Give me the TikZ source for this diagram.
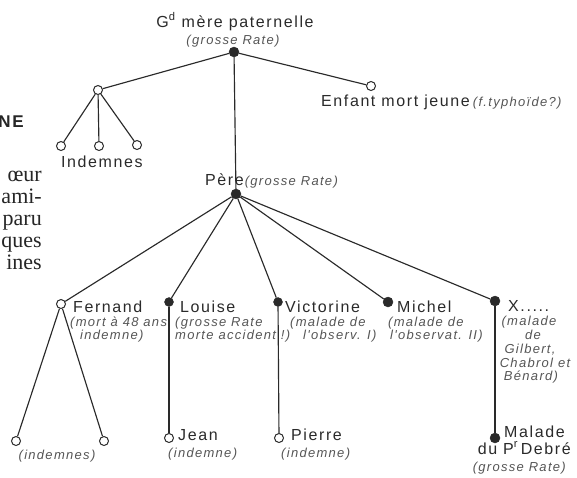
\documentclass[tikz,border=0pt]{standalone}
\usepackage{fontspec}
\newfontfamily\labfont[LetterSpace=10]{Liberation Sans}
\newfontfamily\notefont[LetterSpace=10]{Liberation Sans}
\newfontfamily\bookfont{Liberation Serif}
\definecolor{ink}{HTML}{2A2A2A}
\definecolor{noteink}{HTML}{555555}
\newcommand\notetext[1]{{\color{noteink}\notefont\itshape\fontsize{13}{14}\selectfont #1}}
\tikzset{
  link/.style={draw=ink, line width=1.15pt},
  opendot/.style={circle, draw=ink, line width=1pt, fill=white, inner sep=0pt, minimum size=9pt},
  fulldot/.style={circle, draw=ink, fill=ink, inner sep=0pt, minimum size=10pt},
  famname/.style={text=ink, inner sep=0pt, font=\labfont\fontsize{16}{16}\selectfont},
  famnote/.style={text=noteink, inner sep=0pt, font=\notefont\itshape\fontsize{13}{14}\selectfont},
  booktext/.style={text=black!85, inner sep=0pt, font=\bookfont\fontsize{22}{22}\selectfont, anchor=base east},
}
\begin{document}
\begin{tikzpicture}[x=1pt,y=-1pt]
\useasboundingbox (0,0) rectangle (577,477);

% running text of the page, cut by the left margin
\node[text=black!85, inner sep=0pt, anchor=base east, font=\labfont\bfseries\fontsize{17}{17}\selectfont] (head) at (24,127) {NE};
\node[booktext] (l1) at (42,181) {œur};
\node[booktext] (l2) at (42,203) {ami-};
\node[booktext] (l3) at (42,225) {paru};
\node[booktext] (l4) at (42,247) {ques};
\node[booktext] (l5) at (42,269) {ines};

% family members
\node[fulldot] (gm) at (234,52) {};
\node[opendot] (sib) at (98,90) {};
\node[opendot] (s1) at (61,146) {};
\node[opendot] (s2) at (99,146) {};
\node[opendot] (s3) at (137,145) {};
\node[opendot] (enf) at (371,86) {};
\node[fulldot] (pere) at (236,194) {};
\node[opendot] (fer) at (61,304) {};
\node[fulldot, minimum size=9pt] (lou) at (169,302) {};
\node[fulldot, minimum size=9pt] (vic) at (278,302) {};
\node[fulldot] (mic) at (388,302) {};
\node[fulldot] (xx) at (495,301) {};
\node[opendot] (f1) at (16,441) {};
\node[opendot] (f2) at (104,441) {};
\node[opendot] (jean) at (169,438) {};
\node[opendot] (pie) at (279,438) {};
\node[fulldot] (mal) at (495,438) {};

% lines of descent
\draw[link] (gm) -- (sib);
\draw[link] (gm) -- (pere);
\draw[link] (gm) -- (enf);
\draw[link] (sib) -- (s1);
\draw[link] (sib) -- (s2);
\draw[link] (sib) -- (s3);
\draw[link] (pere) -- (fer);
\draw[link] (pere) -- (lou);
\draw[link] (pere) -- (vic);
\draw[link] (pere) -- (mic);
\draw[link] (pere) -- (xx);
\draw[link] (fer) -- (f1);
\draw[link] (fer) -- (f2);
\draw[link] (lou) -- (jean);
\draw[link] (vic) -- (pie);
\draw[link] (xx) -- (mal);

% labels
\node[famname, anchor=base] (gmname) at (235,27) {G\textsuperscript{d} mère paternelle};
\node[famnote, anchor=base] (gmnote) at (233,44) {(grosse Rate)};
\node[famname, anchor=base west] (sibname) at (61,167) {Indemnes};
\node[famname, anchor=base west] (enfname) at (321,106) {Enfant mort jeune\hspace{3pt}\notetext{(f.typhoïde?)}};
\node[famname, anchor=base west] (perename) at (205,185) {Père\hspace{1pt}\notetext{(grosse Rate)}};

\node[famname, anchor=base west] (fername) at (73,312) {Fernand};
\node[famnote, anchor=base west] (fernote1) at (70,326) {(mort à 48 ans};
\node[famnote, anchor=base west] (fernote2) at (80,339) {indemne)};

\node[famname, anchor=base west] (louname) at (180,312) {Louise};
\node[famnote, anchor=base west] (lounote1) at (175,326) {(grosse Rate};
\node[famnote, anchor=base west] (lounote2) at (175,339) {morte accident !)};

\node[famname, anchor=base west] (vicname) at (285,312) {Victorine};
\node[famnote, anchor=base west] (vicnote1) at (290,326) {(malade de};
\node[famnote, anchor=base west] (vicnote2) at (303,339) {l'observ. I)};

\node[famname, anchor=base west] (micname) at (397,312) {Michel};
\node[famnote, anchor=base west] (micnote1) at (388,326) {(malade de};
\node[famnote, anchor=base west] (micnote2) at (390,339) {l'observat. II)};

\node[famname, anchor=base west] (xname) at (508,311) {X.....};
\node[famnote, anchor=base] (xnote1) at (529,325) {(malade};
\node[famnote, anchor=base] (xnote2) at (533,339) {de};
\node[famnote, anchor=base] (xnote3) at (530,353) {Gilbert,};
\node[famnote, anchor=base] (xnote4) at (535,367) {Chabrol et};
\node[famnote, anchor=base] (xnote5) at (531,380) {Bénard)};

\node[famnote, anchor=base] (fchildnote) at (57,459) {(indemnes)};
\node[famname, anchor=base west] (jeanname) at (178,440) {Jean};
\node[famnote, anchor=base west] (jeannote) at (168,457) {(indemne)};
\node[famname, anchor=base west] (piename) at (291,440) {Pierre};
\node[famnote, anchor=base west] (pienote) at (281,457) {(indemne)};

\node[famname, anchor=base west] (malname1) at (504,437) {Malade};
\node[famname, anchor=base east] (malname2) at (571,454) {du P\textsuperscript{r}\,Debré};
\node[famnote, anchor=base east] (malnote) at (566,471) {(grosse Rate)};
\end{tikzpicture}
\end{document}
